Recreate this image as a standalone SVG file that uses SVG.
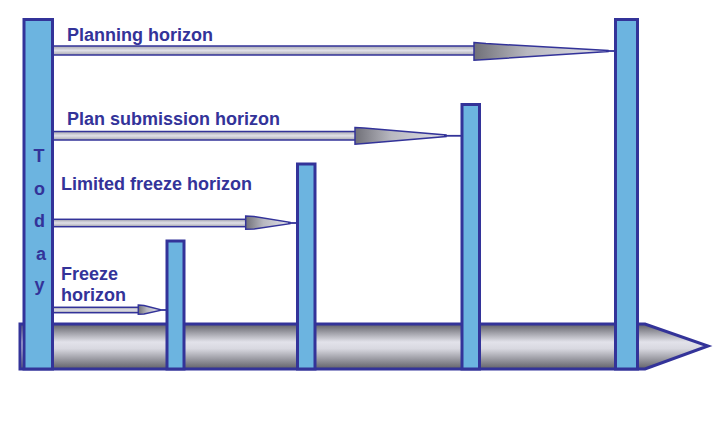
<svg xmlns="http://www.w3.org/2000/svg" width="720" height="425" viewBox="0 0 720 425">
<defs>
<linearGradient id="pipe" x1="0" y1="0" x2="0" y2="1">
<stop offset="0" stop-color="#606068"/>
<stop offset="0.4" stop-color="#e2e2ea"/>
<stop offset="0.55" stop-color="#d8d8e0"/>
<stop offset="1" stop-color="#606068"/>
</linearGradient>
<linearGradient id="shaft" x1="0" y1="0" x2="0" y2="1">
<stop offset="0" stop-color="#a8a8b0"/>
<stop offset="0.5" stop-color="#e0e0e8"/>
<stop offset="1" stop-color="#a8a8b0"/>
</linearGradient>
<linearGradient id="head" x1="0" y1="0" x2="1" y2="0">
<stop offset="0" stop-color="#707078"/>
<stop offset="0.4" stop-color="#b8b8c0"/>
<stop offset="1" stop-color="#e0e0e8"/>
</linearGradient>
</defs>
<style>
.bar{fill:#6cb4e0;stroke:#333399;stroke-width:3}
.shaft{fill:url(#shaft);stroke:#333399;stroke-width:1.5}
.head{fill:url(#head);stroke:#333399;stroke-width:1.5}
.tip{stroke:#333399;stroke-width:1.8;fill:none}
.lbl{font-family:"Liberation Sans",Arial,sans-serif;font-weight:bold;font-size:18px;fill:#333399}
</style>
<rect width="720" height="425" fill="#fff"/>
<g id="timeline">
<polygon points="20,324 645,324 708,346 645,369 20,369" fill="url(#pipe)" stroke="#333399" stroke-width="3" stroke-linejoin="miter"/>
</g>
<g id="connectors">
<g id="arrow-planning">
<rect class="shaft" x="52" y="46" width="423" height="9"/>
<polygon class="head" points="474,42.5 486,43.5 608,50.5 608,51.5 486,59.5 474,60.3"/>
<line class="tip" x1="606" y1="51" x2="616" y2="51"/>
</g>
<g id="arrow-submission">
<rect class="shaft" x="52" y="131.5" width="304" height="8.5"/>
<polygon class="head" points="355,127.5 364,128 446,135 446,136.5 364,143.5 355,144.3"/>
<line class="tip" x1="444" y1="135.8" x2="461" y2="135.8"/>
</g>
<g id="arrow-limited">
<rect class="shaft" x="52" y="219.3" width="194" height="7.4"/>
<polygon class="head" points="245.7,216 254,216.5 290,222.3 290,223.7 254,229 245.7,229.3"/>
<line class="tip" x1="288" y1="223" x2="297" y2="223"/>
</g>
<g id="arrow-freeze">
<rect class="shaft" x="52" y="307.3" width="87" height="5.4"/>
<polygon class="head" points="138.3,305 144,305.5 160,309.5 160,310.5 144,314 138.3,314.3"/>
<line class="tip" x1="159" y1="310" x2="166" y2="310"/>
</g>
</g>
<g id="today">
<rect class="bar" x="24" y="19.5" width="28.5" height="349.5"/>
<text class="lbl" text-anchor="middle" x="39" y="162">T</text>
<text class="lbl" text-anchor="middle" x="39.5" y="195">o</text>
<text class="lbl" text-anchor="middle" x="39.5" y="227">d</text>
<text class="lbl" text-anchor="middle" x="41" y="259.5">a</text>
<text class="lbl" text-anchor="middle" x="39.5" y="291">y</text>
</g>
<g id="bar-freeze"><rect class="bar" x="167" y="241" width="17" height="128"/></g>
<g id="bar-limited"><rect class="bar" x="297.5" y="164" width="17.5" height="205"/></g>
<g id="bar-submission"><rect class="bar" x="462" y="104.5" width="17.5" height="264.5"/></g>
<g id="bar-planning"><rect class="bar" x="615.5" y="19.5" width="22" height="349.5"/></g>
<g id="labels">
<text class="lbl" x="67" y="41">Planning horizon</text>
<text class="lbl" x="67" y="125">Plan submission horizon</text>
<text class="lbl" x="61" y="189.5">Limited freeze horizon</text>
<text class="lbl" x="61" y="279.5">Freeze</text>
<text class="lbl" x="61" y="301">horizon</text>
</g>
</svg>
